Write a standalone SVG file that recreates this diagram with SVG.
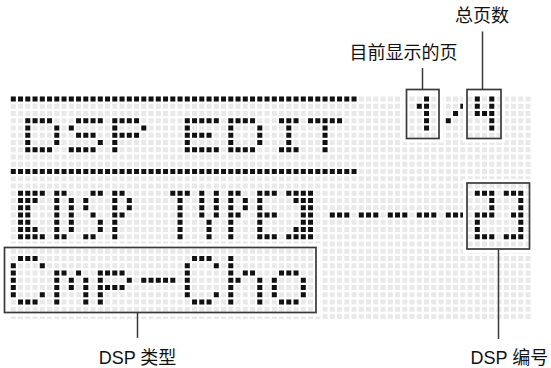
<svg xmlns="http://www.w3.org/2000/svg" width="551" height="368" viewBox="0 0 551 368">
<style>
.bg{fill:#fff}
.lit{fill:none;stroke:#e9e9e9;stroke-width:0.6897;stroke-dasharray:0.6897 0.3103}
.on{fill:none;stroke:#111;stroke-width:0.6897;stroke-dasharray:0.6897 0.3103}
.halo{fill:none;stroke:#fff;stroke-width:4}
.frame{fill:none;stroke:#3a3a3a;stroke-width:1.7}
.conn{fill:none;stroke:#3a3a3a;stroke-width:1.5}
.lbl{font-family:"Liberation Sans","Noto Sans CJK SC",sans-serif;font-size:18px;fill:#111}
</style>
<rect class="bg" x="0" y="0" width="551" height="368"/>
<g id="lcd-grid" transform="translate(10.8 99) scale(7.25)">
<path class="lit" d="M0 0h72M0 1h72M0 2h72M0 3h72M0 4h72M0 5h72M0 6h72M0 7h72M0 8h72M0 9h72M0 10h72M0 11h72M0 12h72M0 13h72M0 14h72M0 15h72M0 16h72M0 17h72M0 18h72M0 19h72M0 20h72M0 21h72M0 22h72M0 23h72M0 24h72M0 25h72M0 26h72M0 27h72M0 28h72M0 29h72M0 30h72"/>
</g>
<g id="lcd-line1" transform="translate(10.8 99) scale(7.25)">
<path class="on" d="M0 0h48M0 10h48
M2 3h4M2 4h1M6 4h1M2 5h1M6 5h1M2 6h1M6 6h1M2 7h4
M9 3h4M8 4h1M9 5h3M12 6h1M8 7h4
M14 3h4M14 4h1M18 4h1M14 5h4M14 6h1M14 7h1
M24 3h5M24 4h1M24 5h4M24 6h1M24 7h5
M30 3h4M30 4h1M34 4h1M30 5h1M34 5h1M30 6h1M34 6h1M30 7h4
M37 3h3M38 4h1M38 5h1M38 6h1M37 7h3
M41 3h5M43 4h1M43 5h1M43 6h1M43 7h1
M62 1h1M61 2h1M60 3h1"/>
</g>
<g id="lcd-line2" transform="translate(10.8 99) scale(7.25)">
<path class="on" d="M1 13h4M1 14h3M1 15h2M1 16h2M1 17h2M1 18h3M1 19h4
M6 13h2M6 14h1M8 14h1M6 15h1M8 15h1M6 16h1M8 16h1M6 17h1M8 17h1M6 18h1M8 18h1M6 19h2
M11 13h2M10 14h1M10 15h1M11 16h1M12 17h1M12 18h1M10 19h2
M14 13h2M14 14h1M16 14h1M14 15h1M16 15h1M14 16h2M14 17h1M14 18h1M14 19h1
M22 13h3M23 14h1M23 15h1M23 16h1M23 17h1M23 18h1M23 19h1
M26 13h1M28 13h1M26 14h1M28 14h1M26 15h1M28 15h1M26 16h1M28 16h1M27 17h1M27 18h1M27 19h1
M30 13h2M30 14h1M32 14h1M30 15h1M32 15h1M30 16h2M30 17h1M30 18h1M30 19h1
M34 13h3M34 14h1M34 15h1M34 16h3M34 17h1M34 18h1M34 19h3
M38 13h4M39 14h3M40 15h2M40 16h2M40 17h2M39 18h3M38 19h4
M44 16h3M48 16h3M52 16h3M56 16h3M60 16h3"/>
</g>
<g id="node-page-current">
<path class="on" transform="translate(10.8 99) scale(7.25)" d="M57 0h1M56 1h2M57 2h1M57 3h1M57 4h1"/>
<rect class="halo" x="404.5" y="87.5" width="36.5" height="53"/>
<rect class="frame" x="406.5" y="89.5" width="32.5" height="49"/>
<text class="lbl" x="403.5" y="59" text-anchor="middle">目前显示的页</text>
</g>
<g id="node-page-total">
<path class="on" transform="translate(10.8 99) scale(7.25)" d="M64 0h1M66 0h1M64 1h1M66 1h1M64 2h3M66 3h1M66 4h1"/>
<rect class="halo" x="465" y="87.5" width="38" height="53"/>
<rect class="frame" x="467" y="89.5" width="34" height="49"/>
<text class="lbl" x="482" y="22" text-anchor="middle">总页数</text>
</g>
<g id="node-dsp-number">
<path class="on" transform="translate(10.8 99) scale(7.25)" d="M64 13h3M66 14h1M66 15h1M64 16h3M64 17h1M64 18h1M64 19h3
M68 13h3M70 14h1M70 15h1M69 16h2M70 17h1M70 18h1M68 19h3"/>
<rect class="halo" x="465" y="181" width="66.5" height="70"/>
<rect class="frame" x="467" y="183" width="62.5" height="66"/>
<text class="lbl" x="470.5" y="364">DSP 编号</text>
</g>
<g id="node-dsp-type">
<path class="on" transform="translate(10.8 99) scale(7.25)" d="M1 22h3M0 23h1M4 23h1M0 24h1M0 25h1M0 26h1M0 27h1M4 27h1M1 28h3
M6 24h2M9 24h1M6 25h1M8 25h1M10 25h1M6 26h1M8 26h1M10 26h1M6 27h1M10 27h1M6 28h1M10 28h1
M12 24h4M12 25h1M16 25h1M12 26h4M12 27h1M12 28h1
M18 25h5
M25 22h3M24 23h1M28 23h1M24 24h1M24 25h1M24 26h1M24 27h1M28 27h1M25 28h3
M30 22h1M30 23h1M30 24h1M32 24h2M30 25h2M34 25h1M30 26h1M34 26h1M30 27h1M34 27h1M30 28h1M34 28h1
M37 24h3M36 25h1M40 25h1M36 26h1M40 26h1M36 27h1M40 27h1M37 28h3"/>
<rect class="halo" x="2.5" y="245.5" width="315.5" height="69"/>
<rect class="frame" x="4.5" y="247.5" width="311.5" height="65"/>
<text class="lbl" x="137.5" y="364" text-anchor="middle">DSP 类型</text>
</g>
<g id="connectors">
<line class="conn" x1="422.5" y1="68" x2="422.5" y2="89.5"/>
<line class="conn" x1="482.5" y1="31.5" x2="482.5" y2="89.5"/>
<line class="conn" x1="498.5" y1="249" x2="498.5" y2="339"/>
<line class="conn" x1="137.5" y1="312.5" x2="137.5" y2="338"/>
</g>
</svg>
